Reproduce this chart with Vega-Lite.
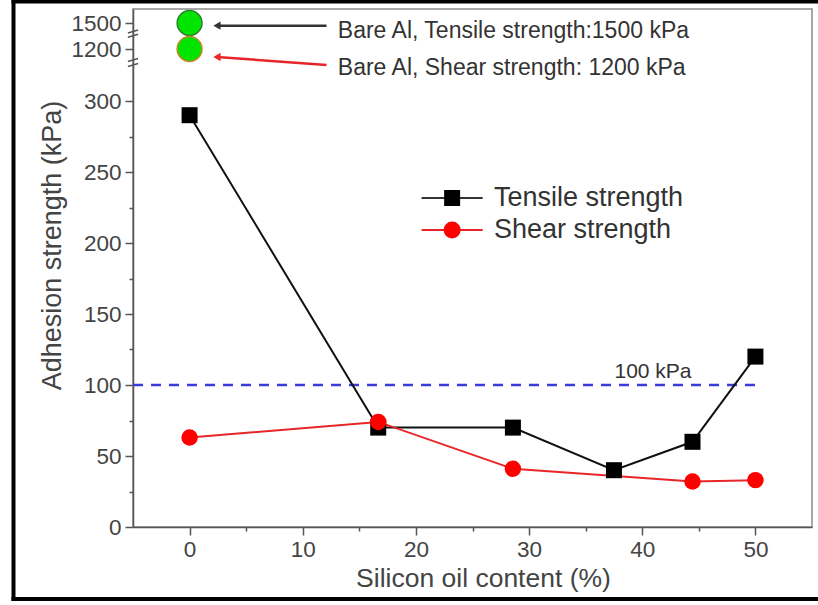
{
  "$schema": "https://vega.github.io/schema/vega-lite/v6.json",
  "width": 679,
  "height": 518,
  "autosize": {"type": "none"},
  "padding": {"left": 133, "top": 9, "right": 6, "bottom": 78},
  "background": "white",
  "config": {
    "font": "Liberation Sans",
    "view": {"stroke": "#8a8a8a", "strokeWidth": 1.5}
  },
  "datasets": {
    "tensile": [
      {"content": 0, "strength": 290},
      {"content": 16.67, "strength": 70},
      {"content": 28.57, "strength": 70},
      {"content": 37.5, "strength": 40},
      {"content": 44.44, "strength": 60},
      {"content": 50, "strength": 120}
    ],
    "shear": [
      {"content": 0, "strength": 63},
      {"content": 16.67, "strength": 74},
      {"content": 28.57, "strength": 41},
      {"content": 44.44, "strength": 32},
      {"content": 50, "strength": 33}
    ],
    "bare": [
      {"series": "Tensile", "content": 0, "strength": 1500},
      {"series": "Shear", "content": 0, "strength": 1200}
    ],
    "arrows": [
      {"series": "Tensile", "content": 2.42, "strength": 1469, "content2": 12.1, "strength2": 1469},
      {"series": "Shear", "content": 2.42, "strength": 1062, "content2": 12.1, "strength2": 923}
    ],
    "notes": [
      {"content": 13.1, "strength": 1408, "label": "Bare Al, Tensile strength:1500 kPa"},
      {"content": 13.1, "strength": 871, "label": "Bare Al, Shear strength: 1200 kPa"}
    ],
    "ref": [
      {"content": -5, "content2": 50.4, "strength": 100}
    ],
    "refLabel": [
      {"content": 40.95, "strength": 109, "label": "100 kPa"}
    ],
    "legendLines": [
      {"series": "Tensile", "content": 20.5, "content2": 25.9, "strength": 231.7},
      {"series": "Shear", "content": 20.5, "content2": 25.9, "strength": 209.2}
    ],
    "legendMarks": [
      {"series": "Tensile", "content": 23.2, "strength": 231.7},
      {"series": "Shear", "content": 23.2, "strength": 209.2}
    ],
    "legendText": [
      {"content": 26.9, "strength": 231.7, "label": "Tensile strength"},
      {"content": 26.9, "strength": 209.2, "label": "Shear strength"}
    ],
    "breaks": [
      {"content": -5.45, "content2": -4.55, "strength": 1385, "strength2": 1420},
      {"content": -5.45, "content2": -4.55, "strength": 1335, "strength2": 1370},
      {"content": -5.45, "content2": -4.55, "strength": 984, "strength2": 1036},
      {"content": -5.45, "content2": -4.55, "strength": 897, "strength2": 949}
    ],
    "border": [
      {"content": -15.56, "content2": 60, "strength": 1730, "strength2": 1730},
      {"content": -15.56, "content2": -15.56, "strength": -50.7, "strength2": 1730},
      {"content": -15.56, "content2": 60, "strength": -50.7, "strength2": -50.7}
    ]
  },
  "encoding": {
    "x": {
      "field": "content",
      "type": "quantitative",
      "scale": {"domain": [-5, 55], "nice": false, "zero": false},
      "axis": {
        "title": "Silicon oil content (%)",
        "values": [0, 5, 10, 15, 20, 25, 30, 35, 40, 45, 50],
        "format": "d",
        "labelExpr": "datum.value % 10 == 0 ? datum.label : ''",
        "tickSize": {"condition": {"test": "datum.value % 10 != 0", "value": 4}, "value": 8},
        "grid": false,
        "domainColor": "#555555",
        "domainWidth": 1.5,
        "tickColor": "#555555",
        "tickWidth": 1.5,
        "labelFontSize": 22.5,
        "labelColor": "#444444",
        "labelPadding": 3,
        "labelFlush": false,
        "labelOverlap": false,
        "titleFontSize": 26.5,
        "titleFontWeight": "normal",
        "titleColor": "#444444",
        "titlePadding": 5,
        "titleX": 350
      }
    },
    "y": {
      "field": "strength",
      "type": "quantitative",
      "scale": {"domain": [0, 300, 1200, 1500, 1650], "range": [518, 92, 40, 14, 0], "nice": false, "zero": false},
      "axis": {
        "title": "Adhesion strength (kPa)",
        "values": [0, 25, 50, 75, 100, 125, 150, 175, 200, 225, 250, 275, 300, 1200, 1500],
        "format": "d",
        "labelExpr": "datum.value % 50 == 0 ? datum.label : ''",
        "tickSize": {"condition": {"test": "datum.value % 50 != 0", "value": 4}, "value": 8},
        "grid": false,
        "domainColor": "#555555",
        "domainWidth": 1.5,
        "tickColor": "#555555",
        "tickWidth": 1.5,
        "labelFontSize": 22.5,
        "labelColor": "#444444",
        "labelPadding": 4,
        "labelOverlap": false,
        "labelFlush": false,
        "titleFontSize": 27,
        "titleFontWeight": "normal",
        "titleColor": "#444444",
        "titlePadding": 4,
        "titleY": 236
      }
    }
  },
  "layer": [
    {
      "data": {"name": "ref"},
      "mark": {"type": "rule", "stroke": "#3b3bd6", "strokeWidth": 2.5, "strokeDash": [10, 8]},
      "encoding": {"x2": {"field": "content2"}}
    },
    {
      "data": {"name": "refLabel"},
      "mark": {"type": "text", "fontSize": 21, "color": "#333333", "align": "center", "baseline": "middle"},
      "encoding": {"text": {"field": "label"}}
    },
    {
      "data": {"name": "tensile"},
      "mark": {"type": "line", "color": "#111111", "strokeWidth": 2}
    },
    {
      "data": {"name": "shear"},
      "mark": {"type": "line", "color": "#e8262a", "strokeWidth": 2}
    },
    {
      "data": {"name": "tensile"},
      "mark": {"type": "square", "size": 256, "color": "#000000", "opacity": 1}
    },
    {
      "data": {"name": "shear"},
      "mark": {"type": "circle", "size": 270, "color": "#ff0000", "opacity": 1}
    },
    {
      "data": {"name": "bare"},
      "mark": {"type": "circle", "size": 620, "fill": "#00e400", "fillOpacity": 1, "strokeWidth": 1.5, "opacity": 1},
      "encoding": {
        "stroke": {"field": "series", "type": "nominal", "scale": {"domain": ["Tensile", "Shear"], "range": ["#2f7d2f", "#c8862a"]}, "legend": null}
      }
    },
    {
      "data": {"name": "arrows"},
      "mark": {"type": "rule", "strokeWidth": 2.5},
      "encoding": {
        "x2": {"field": "content2"},
        "y2": {"field": "strength2"},
        "color": {"field": "series", "type": "nominal", "scale": {"domain": ["Tensile", "Shear"], "range": ["#333333", "#e8262a"]}, "legend": null}
      }
    },
    {
      "data": {"name": "arrows"},
      "mark": {"type": "point", "shape": "triangle-left", "filled": true, "size": 70, "opacity": 1},
      "encoding": {
        "color": {"field": "series", "type": "nominal", "scale": {"domain": ["Tensile", "Shear"], "range": ["#333333", "#e8262a"]}, "legend": null}
      }
    },
    {
      "data": {"name": "notes"},
      "mark": {"type": "text", "align": "left", "baseline": "middle", "fontSize": 23, "color": "#333333"},
      "encoding": {"text": {"field": "label"}}
    },
    {
      "data": {"name": "legendLines"},
      "mark": {"type": "rule", "strokeWidth": 2},
      "encoding": {
        "x2": {"field": "content2"},
        "color": {"field": "series", "type": "nominal", "scale": {"domain": ["Tensile", "Shear"], "range": ["#333333", "#e8262a"]}, "legend": null}
      }
    },
    {
      "data": {"name": "legendMarks"},
      "transform": [{"filter": "datum.series == 'Tensile'"}],
      "mark": {"type": "square", "size": 256, "color": "#000000", "opacity": 1}
    },
    {
      "data": {"name": "legendMarks"},
      "transform": [{"filter": "datum.series == 'Shear'"}],
      "mark": {"type": "circle", "size": 290, "color": "#ff0000", "opacity": 1}
    },
    {
      "data": {"name": "legendText"},
      "mark": {"type": "text", "align": "left", "baseline": "middle", "fontSize": 27, "color": "#333333"},
      "encoding": {"text": {"field": "label"}}
    },
    {
      "data": {"name": "breaks"},
      "mark": {"type": "rule", "strokeWidth": 1.5, "color": "#555555"},
      "encoding": {"x2": {"field": "content2"}, "y2": {"field": "strength2"}}
    },
    {
      "data": {"name": "border"},
      "mark": {"type": "rule", "strokeWidth": 4, "color": "#000000", "strokeCap": "square"},
      "encoding": {"x2": {"field": "content2"}, "y2": {"field": "strength2"}}
    }
  ]
}
